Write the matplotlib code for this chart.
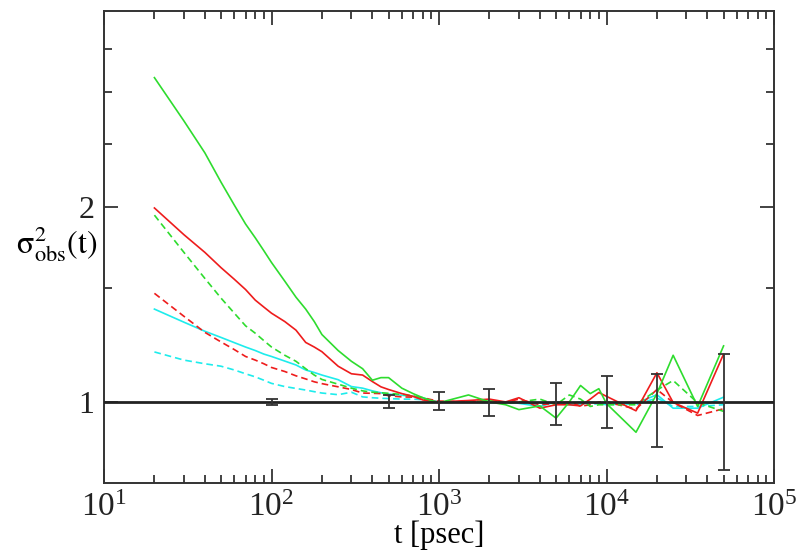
import matplotlib
matplotlib.use("Agg")
import matplotlib.pyplot as plt
from matplotlib.ticker import FixedLocator, NullFormatter, FixedFormatter, LogFormatterMathtext
import numpy as np

plt.rcParams['font.family'] = ['Liberation Serif', 'DejaVu Serif']
plt.rcParams['mathtext.fontset'] = 'stix'

# time grid (psec)
t = [20, 30, 40, 50, 60, 70, 80, 90, 100, 120, 140, 160, 180, 200, 250, 300, 350,
     400, 450, 500, 600, 700, 800, 900, 1000,
     1500, 2000, 2500, 3000, 4000, 5000, 6000, 7000, 8000, 9000, 10000,
     15000, 20000, 25000, 35000, 50000]

green_solid = [3.16, 2.71, 2.42, 2.18, 2.01, 1.88, 1.79, 1.71, 1.64, 1.535, 1.45, 1.39, 1.33,
               1.27, 1.20, 1.155, 1.125, 1.08, 1.09, 1.09, 1.05, 1.03, 1.015, 1.005, 0.997,
               1.025, 1.0, 0.99, 0.973, 0.986, 0.944, 1.0, 1.06, 1.03, 1.048, 0.994,
               0.898, 1.03, 1.18, 0.984, 1.22]
red_solid = [1.99, 1.81, 1.70, 1.61, 1.545, 1.49, 1.435, 1.40, 1.37, 1.33, 1.29, 1.235, 1.215,
             1.195, 1.135, 1.105, 1.10, 1.075, 1.055, 1.045, 1.03, 1.02, 1.007, 1.003, 1.0,
             1.005, 1.01, 1.0, 1.015, 0.978, 0.99, 0.99, 0.986, 1.01, 1.034, 1.02,
             0.969, 1.109, 0.998, 0.961, 1.185]
green_dashed = [1.94, 1.70, 1.55, 1.445, 1.37, 1.31, 1.276, 1.243, 1.215, 1.18, 1.155, 1.125, 1.10,
                1.083, 1.065, 1.05, 1.04, 1.035, 1.033, 1.031, 1.027, 1.022, 1.012, 1.003, 0.998,
                1.0, 1.005, 0.995, 1.0, 1.01, 0.99, 1.025, 1.01, 0.984, 0.99, 0.99,
                0.99, 1.043, 1.079, 0.997, 0.967]
red_dashed = [1.47, 1.355, 1.28, 1.237, 1.204, 1.175, 1.16, 1.145, 1.13, 1.114, 1.097, 1.085, 1.074,
              1.067, 1.055, 1.045, 1.032, 1.031, 1.03, 1.022, 1.018, 1.017, 1.015, 1.008, 1.003,
              1.0, 1.005, 0.998, 1.01, 0.99, 0.995, 1.0, 0.985, 0.99, 1.0, 1.0,
              0.975, 1.045, 0.998, 0.953, 0.976]
cyan_solid = [1.39, 1.327, 1.285, 1.257, 1.234, 1.215, 1.20, 1.185, 1.175, 1.156, 1.14, 1.12, 1.11,
              1.10, 1.082, 1.056, 1.05, 1.04, 1.033, 1.028, 1.024, 1.02, 1.015, 1.005, 1.0,
              1.0, 0.998, 1.0, 0.995, 0.984, 1.0, 0.99, 0.99, 1.0, 0.995, 0.99,
              0.995, 1.026, 0.978, 0.978, 1.017]
cyan_dashed = [1.194, 1.16, 1.145, 1.135, 1.12, 1.105, 1.093, 1.08, 1.068, 1.056, 1.049, 1.043, 1.037,
               1.032, 1.026, 1.035, 1.018, 1.015, 1.013, 1.012, 1.01, 1.01, 1.008, 1.004, 1.0,
               1.0, 1.0, 0.995, 1.0, 0.99, 1.0, 0.995, 1.0, 0.99, 0.995, 1.0,
               0.99, 1.014, 0.984, 0.984, 0.99]

# error bars
err_t = [100, 500, 1000, 2000, 5000, 10000, 20000, 50000]
err_center = [1.0, 1.0, 1.0, 1.0, 1.0, 1.0, 1.0, 1.0]
err_low = [0.99, 0.98, 0.972, 0.952, 0.922, 0.912, 0.851, 0.786]
err_high = [1.01, 1.025, 1.037, 1.046, 1.068, 1.097, 1.105, 1.185]

GREEN = '#2edc2e'
RED = '#ee1c1c'
CYAN = '#1eecec'

fig = plt.figure(figsize=(8, 5.6), dpi=100)
ax = fig.add_axes([0.13, 0.1375, 0.8375, 0.8425])

lw = 1.2
dash = (4.0, 2.4)
ax.plot(t, cyan_dashed, color=CYAN, lw=lw, dashes=dash)
ax.plot(t, cyan_solid, color=CYAN, lw=lw)
ax.plot(t, red_dashed, color=RED, lw=lw, dashes=dash)
ax.plot(t, green_dashed, color=GREEN, lw=lw, dashes=dash)
ax.plot(t, red_solid, color=RED, lw=lw)
ax.plot(t, green_solid, color=GREEN, lw=lw)

ax.axhline(1.0, color='#222222', lw=2.0, zorder=5)

yerr = [np.array(err_center) - np.array(err_low), np.array(err_high) - np.array(err_center)]
ax.errorbar(err_t, err_center, yerr=yerr, fmt='none', ecolor='#333333',
            elinewidth=1.3, capsize=4.5, capthick=1.3, zorder=6)

ax.set_xscale('log')
ax.set_yscale('log')
ax.set_xlim(10, 1e5)
ax.set_ylim(0.75, 4.0)

ax.yaxis.set_major_locator(FixedLocator([1, 2]))
ax.yaxis.set_major_formatter(FixedFormatter(['1', '2']))
ax.yaxis.set_minor_locator(FixedLocator([1.5, 2.5, 3.0, 3.5]))
ax.yaxis.set_minor_formatter(NullFormatter())
ax.xaxis.set_major_formatter(LogFormatterMathtext())

ax.tick_params(which='both', direction='in', top=True, right=True, width=1.2,
               colors='#222222')
ax.tick_params(axis='x', labelsize=24)
ax.tick_params(axis='y', labelsize=23)
ax.tick_params(which='major', length=10, pad=7)
ax.tick_params(which='minor', length=5.5)
for s in ax.spines.values():
    s.set_linewidth(1.4)
    s.set_color('#333333')

ax.set_xlabel('t [psec]', fontsize=22, labelpad=-2)
ax.set_ylabel(r'$\mathrm{\sigma}^{2}_{\mathrm{obs}}\mathrm{(t)}$', fontsize=23, rotation=0,
              labelpad=0, va='center', ha='center')
ax.yaxis.set_label_coords(-0.07, 0.505)

fig.savefig('out.png', dpi=100)
